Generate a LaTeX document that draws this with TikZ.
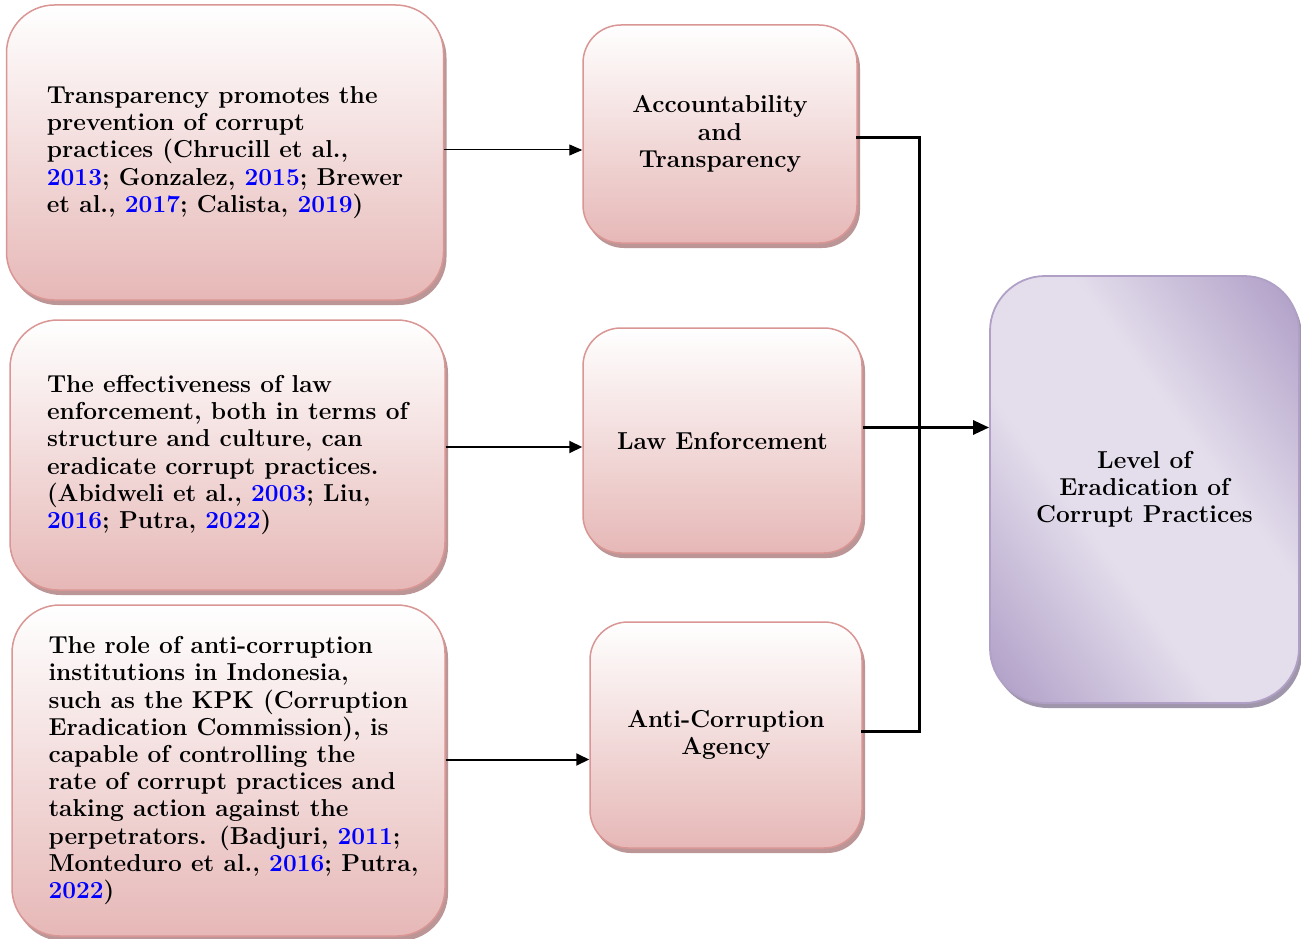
\documentclass[tikz,border=0pt]{standalone}
\usepackage{fontspec}
\usetikzlibrary{arrows.meta,shadows}
\definecolor{pinkbot}{RGB}{230,184,183}
\definecolor{pinkline}{RGB}{217,150,148}
\definecolor{pinkshadow}{RGB}{188,150,150}
\definecolor{plight}{RGB}{228,222,236}
\definecolor{pdark}{RGB}{174,157,198}
\definecolor{pline}{RGB}{176,160,198}
\definecolor{pshadow}{RGB}{160,150,172}
\definecolor{yrblue}{RGB}{0,0,255}
\pgfdeclarehorizontalshading{purpwide}{540bp}{color(0bp)=(pdark); color(15bp)=(pdark); color(195bp)=(plight); color(325bp)=(plight); color(505bp)=(pdark); color(520bp)=(pdark)}
\newcommand{\yr}[1]{\textcolor{yrblue}{#1}}
\tikzset{
  txt/.style={font=\fontsize{24.5}{27.2}\selectfont\bfseries, inner sep=0pt},
  pinkbox/.style={txt, draw=pinkline, line width=1.5pt, top color=white, bottom color=pinkbot,
    drop shadow={shadow xshift=3pt, shadow yshift=-5pt, fill=pinkshadow, opacity=1}},
  purpbox/.style={txt, draw=pline, line width=1.8pt, fill=plight,
    path picture={\node[rotate=36, inner sep=0pt] at (path picture bounding box.center) {\pgfuseshading{purpwide}};},
    drop shadow={shadow xshift=3pt, shadow yshift=-5pt, fill=pshadow, opacity=1}},
  thinarr/.style={line width=1pt, -{Triangle[length=13pt,width=11pt]}},
  midarr/.style={line width=2pt, -{Triangle[length=13pt,width=12pt]}},
  conn/.style={line width=3pt},
  connarr/.style={line width=3pt, -{Triangle[length=16pt,width=14pt]}}
}
\begin{document}
\begin{tikzpicture}[x=1pt,y=-1pt]
\useasboundingbox (0,0) rectangle (1301,939);
\fill[white] (0,0) rectangle (1301,939);

\node[pinkbox, align=left, minimum width=437pt, minimum height=295pt, rounded corners=48pt] (L1) at (225,152.5)
 {Transparency promotes the\\ prevention of corrupt\\ practices (Chrucill et al.,\\ \yr{2013}; Gonzalez, \yr{2015}; Brewer\\ et al., \yr{2017}; Calista, \yr{2019})};
\node[pinkbox, align=left, minimum width=435pt, minimum height=270pt, rounded corners=48pt] (L2) at (227.5,455)
 {The effectiveness of law\\ enforcement, both in terms of\\ structure and culture, can\\ eradicate corrupt practices.\\ (Abidweli et al., \yr{2003}; Liu,\\ \yr{2016}; Putra, \yr{2022})};
\node[pinkbox, minimum width=433pt, minimum height=331pt, rounded corners=48pt] (L3) at (228.5,770.5) {};
\node[txt, align=left] (L3t) at ([xshift=5pt]L3.center)
 {The role of anti-corruption\\ institutions in Indonesia,\\ such as the KPK (Corruption\\ Eradication Commission), is\\ capable of controlling the\\ rate of corrupt practices and\\ taking action against the\\ perpetrators. (Badjuri, \yr{2011};\\ Monteduro et al., \yr{2016}; Putra,\\ \yr{2022})};

\node[pinkbox, align=center, minimum width=274pt, minimum height=218pt, rounded corners=38pt] (M1) at (720,134)
 {Accountability\\ and\\ Transparency};
\node[pinkbox, align=center, minimum width=279pt, minimum height=225pt, rounded corners=38pt] (M2) at (722.5,440.5)
 {Law Enforcement};
\node[pinkbox, align=center, minimum width=272pt, minimum height=226pt, rounded corners=38pt] (M3) at (726,735)
 {Anti-Corruption\\ Agency};

\node[purpbox, align=center, minimum width=309pt, minimum height=427pt, rounded corners=55pt] (R) at (1144.5,489.5)
 {Level of\\ Eradication of\\ Corrupt Practices};

\coordinate (s1) at ([yshift=2.5pt]L1.east);
\coordinate (s2) at ([yshift=8pt]L2.east);
\coordinate (s3) at ([yshift=11pt]L3.east);
\draw[thinarr] (s1) -- (s1 -| M1.west);
\draw[midarr] (s2) -- (s2 -| M2.west);
\draw[midarr] (s3) -- (s3 -| M3.west);

\coordinate (jx) at (919,0);
\coordinate (a1) at ([yshift=-4pt]M1.east);
\coordinate (a2) at ([yshift=13pt]M2.east);
\coordinate (a3) at ([yshift=4pt]M3.east);
\draw[conn, line cap=rect] (a1) -| (jx |- a3) -- (a3);
\draw[connarr] (a2) -- (a2 -| R.west);
\end{tikzpicture}
\end{document}
